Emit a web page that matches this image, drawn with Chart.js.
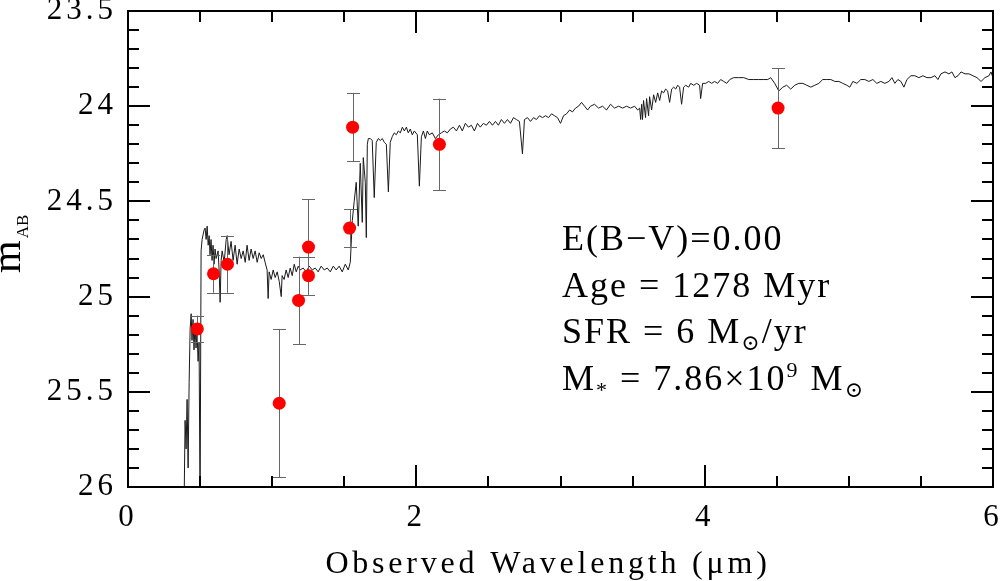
<!DOCTYPE html>
<html><head><meta charset="utf-8">
<script src="https://cdn.jsdelivr.net/npm/chart.js@4.4.1/dist/chart.umd.min.js"></script>
<style>html,body{margin:0;padding:0;background:#fff}#wrap{width:1002px;height:581px;position:relative}</style>
</head><body><div id="wrap"><canvas id="c"></canvas></div>
<script>
// ---- model spectrum (observed wavelength in micron, AB magnitude) ----
const specWave = [0.389,0.396,0.403,0.410,0.417,0.424,0.431,0.438,0.444,0.451,0.458,0.465,0.472,0.479,0.486,0.493,0.500,0.507,0.514,0.528,0.535,0.542,0.549,0.556,0.563,0.569,0.576,0.583,0.590,0.597,0.604,0.611,0.625,0.632,0.639,0.646,0.653,0.667,0.681,0.688,0.701,0.715,0.729,0.743,0.757,0.771,0.785,0.799,0.813,0.826,0.840,0.854,0.868,0.882,0.896,0.910,0.924,0.938,0.951,0.965,0.972,0.979,0.993,1.007,1.021,1.035,1.049,1.063,1.069,1.083,1.097,1.111,1.125,1.139,1.153,1.167,1.181,1.194,1.215,1.236,1.257,1.278,1.299,1.319,1.340,1.361,1.382,1.403,1.424,1.444,1.465,1.486,1.507,1.528,1.542,1.556,1.569,1.583,1.597,1.611,1.625,1.632,1.646,1.653,1.660,1.667,1.681,1.694,1.708,1.722,1.736,1.750,1.764,1.778,1.792,1.806,1.819,1.833,1.847,1.861,1.875,1.889,1.903,1.917,1.931,1.944,1.958,1.972,1.986,2.007,2.021,2.035,2.049,2.063,2.076,2.090,2.111,2.132,2.153,2.174,2.194,2.215,2.236,2.257,2.278,2.299,2.319,2.340,2.361,2.382,2.403,2.424,2.444,2.465,2.486,2.507,2.528,2.549,2.569,2.590,2.611,2.632,2.653,2.674,2.694,2.715,2.736,2.750,2.771,2.792,2.813,2.833,2.854,2.875,2.896,2.917,2.938,2.958,2.979,3.000,3.021,3.042,3.063,3.083,3.104,3.125,3.146,3.167,3.188,3.208,3.236,3.264,3.292,3.319,3.347,3.375,3.403,3.431,3.458,3.486,3.514,3.535,3.549,3.556,3.563,3.569,3.576,3.590,3.597,3.611,3.618,3.632,3.646,3.660,3.674,3.688,3.701,3.715,3.729,3.743,3.757,3.771,3.785,3.799,3.813,3.826,3.840,3.854,3.868,3.889,3.903,3.924,3.944,3.965,3.972,3.986,4.007,4.028,4.049,4.069,4.090,4.111,4.132,4.153,4.174,4.201,4.236,4.271,4.306,4.340,4.375,4.410,4.438,4.458,4.486,4.514,4.542,4.569,4.597,4.625,4.653,4.681,4.708,4.736,4.764,4.792,4.819,4.847,4.875,4.903,4.931,4.958,4.986,5.007,5.028,5.056,5.083,5.111,5.139,5.167,5.194,5.222,5.250,5.278,5.299,5.319,5.340,5.361,5.382,5.403,5.431,5.458,5.486,5.514,5.542,5.569,5.597,5.618,5.639,5.667,5.694,5.715,5.736,5.757,5.778,5.806,5.833,5.861,5.889,5.917,5.944,5.972,5.986,6.000];
const specMag = [26.10,25.65,25.80,25.54,25.90,25.45,25.17,25.09,25.23,25.12,25.28,25.14,25.27,25.18,25.34,25.24,26.10,24.76,24.70,24.65,24.64,24.70,24.63,24.73,24.68,24.78,24.70,24.81,24.73,24.83,24.75,24.80,24.76,24.86,25.03,24.81,24.76,24.82,24.70,24.68,24.78,24.71,24.81,24.73,24.83,24.75,24.80,24.76,24.82,24.73,24.81,24.75,24.80,24.76,24.82,24.77,24.80,24.78,24.82,24.86,25.01,24.87,24.91,24.86,24.90,24.87,24.92,25.00,24.89,24.91,24.86,24.90,24.85,24.89,24.83,24.87,24.84,24.86,24.85,24.87,24.84,24.86,24.85,24.87,24.84,24.86,24.85,24.87,24.84,24.86,24.84,24.87,24.83,24.86,24.82,24.60,24.50,24.40,24.63,24.30,24.61,24.27,24.40,24.69,24.20,24.17,24.17,24.18,24.48,24.19,24.17,24.18,24.17,24.19,24.20,24.45,24.19,24.16,24.14,24.15,24.13,24.14,24.11,24.13,24.11,24.14,24.12,24.15,24.13,24.15,24.42,24.16,24.13,24.17,24.13,24.15,24.14,24.17,24.15,24.14,24.13,24.14,24.12,24.11,24.13,24.10,24.13,24.09,24.11,24.10,24.13,24.09,24.11,24.09,24.10,24.08,24.10,24.08,24.10,24.07,24.09,24.07,24.09,24.06,24.07,24.08,24.25,24.07,24.06,24.08,24.06,24.07,24.05,24.06,24.05,24.06,24.04,24.05,24.06,24.09,24.05,24.04,24.02,24.03,24.01,24.00,23.98,24.00,24.02,24.00,23.99,24.01,24.00,24.02,23.99,24.01,24.00,24.01,24.00,24.01,24.00,24.02,24.01,24.07,23.99,24.07,23.97,24.06,23.96,24.05,23.95,24.02,23.94,23.98,23.93,23.97,23.92,23.93,23.91,23.92,23.98,23.91,23.90,23.91,23.89,23.90,23.99,23.90,23.89,23.90,23.88,23.89,23.88,23.89,23.96,23.88,23.88,23.87,23.88,23.87,23.88,23.86,23.87,23.88,23.86,23.85,23.85,23.85,23.86,23.86,23.86,23.86,23.86,23.85,23.88,23.92,23.90,23.89,23.91,23.89,23.88,23.88,23.89,23.90,23.89,23.88,23.86,23.86,23.86,23.87,23.87,23.88,23.89,23.90,23.87,23.88,23.86,23.86,23.87,23.86,23.88,23.87,23.88,23.87,23.85,23.88,23.86,23.87,23.90,23.86,23.84,23.84,23.85,23.84,23.85,23.85,23.84,23.86,23.83,23.82,23.83,23.82,23.85,23.84,23.82,23.83,23.83,23.84,23.85,23.87,23.85,23.84,23.82,23.85];

// ---- observed photometry ----
const photWave = [0.481,0.593,0.690,1.049,1.183,1.252,1.252,1.537,1.558,2.160,4.509];
const photMag  = [25.17,24.88,24.83,25.56,25.02,24.74,24.89,24.64,24.11,24.20,24.01];
const photErr  = [0.07,0.10,0.15,0.39,0.23,0.25,0.10,0.10,0.18,0.24,0.21];

// ---- axes ----
const xTickValues = [0, 2, 4, 6];
const xTickLabels = ['0','2','4','6'];
const yTickValues = [23.5, 24, 24.5, 25, 25.5, 26];
const yTickLabels = ['23.5','24','24.5','25','25.5','26'];
const xAxisTitle = 'Observed Wavelength (\u03BCm)';
const yAxisTitle = 'm';
const yAxisSub = 'AB';
const annotation = [
  [['E(B\u2212V)=0.00','n']],
  [['Age = 1278 Myr','n']],
  [['SFR = 6 M','n'],['\u2299','sub'],['/yr','n']],
  [['M','n'],['*','sub'],[' = 7.86\u00D710','n'],['9','sup'],[' M','n'],['\u2299','sub']]
];

const FONT = '"Liberation Serif", "DejaVu Serif", serif';

function labelFor(values, labels, v) {
  const i = values.findIndex(t => Math.abs(t - v) < 1e-6);
  return i >= 0 ? labels[i] : '';
}

const textPlugin = {
  id: 'textPlugin',
  beforeDraw(chart) { chart.ctx.letterSpacing = '4px'; },
  beforeDatasetDraw(chart, args) {
    if (args.index !== 0) return;
    const {ctx, scales: {x, y}} = chart;
    ctx.save();
    ctx.beginPath();
    const a = chart.chartArea;
    ctx.rect(a.left, a.top, a.right - a.left, a.bottom - a.top);
    ctx.clip();
    ctx.strokeStyle = '#666';
    ctx.lineWidth = 1;
    for (let i = 0; i < photWave.length; i++) {
      const px = Math.round(x.getPixelForValue(photWave[i])) + 0.5;
      const y1 = y.getPixelForValue(photMag[i] - photErr[i]);
      const y2 = y.getPixelForValue(photMag[i] + photErr[i]);
      ctx.beginPath();
      ctx.moveTo(px, y1); ctx.lineTo(px, y2);
      ctx.moveTo(px - 6.5, Math.round(y1) + 0.5); ctx.lineTo(px + 6.5, Math.round(y1) + 0.5);
      ctx.moveTo(px - 6.5, Math.round(y2) + 0.5); ctx.lineTo(px + 6.5, Math.round(y2) + 0.5);
      ctx.stroke();
    }
    ctx.restore();
  },
  afterDraw(chart) {
    const {ctx, chartArea: {left, right, top, bottom}, scales: {x, y}} = chart;
    ctx.save();
    ctx.letterSpacing = '0px';
    ctx.strokeStyle = '#000';
    ctx.lineWidth = 2;
    ctx.strokeRect(left, top, right - left, bottom - top);
    ctx.beginPath();
    for (let i = 0; i <= 12; i++) {
      const px = Math.round(x.getPixelForValue(i * 0.5));
      const len = (i % 4 === 0) ? 22 : 11;
      ctx.moveTo(px, bottom); ctx.lineTo(px, bottom - len);
      ctx.moveTo(px, top); ctx.lineTo(px, top + len);
    }
    for (let i = 0; i <= 25; i++) {
      const py = Math.round(y.getPixelForValue(23.5 + i * 0.1));
      const len = (i % 5 === 0) ? 22 : 11;
      ctx.moveTo(left, py); ctx.lineTo(left + len, py);
      ctx.moveTo(right, py); ctx.lineTo(right - len, py);
    }
    ctx.stroke();

    ctx.fillStyle = '#000';
    // x axis title
    ctx.letterSpacing = '3.8px';
    ctx.font = '32px ' + FONT;
    ctx.textAlign = 'left';
    ctx.textBaseline = 'alphabetic';
    const w = ctx.measureText(xAxisTitle).width;
    ctx.fillText(xAxisTitle, 548 - w / 2, 573);

    // y axis title
    ctx.letterSpacing = '0px';
    ctx.save();
    ctx.translate(20, 273);
    ctx.rotate(-Math.PI / 2);
    ctx.font = '42px ' + FONT;
    ctx.fillText(yAxisTitle, 0, 0);
    const mw = ctx.measureText(yAxisTitle).width;
    ctx.font = '17px ' + FONT;
    ctx.fillText(yAxisSub, mw + 2, 8);
    ctx.restore();

    // annotation
    ctx.letterSpacing = '2px';
    const base = [250, 296.5, 343, 390];
    annotation.forEach((segs, li) => {
      let cx = 562;
      for (const [t, k] of segs) {
        const size = k === 'n' ? 36 : 22;
        const dy = k === 'sub' ? 7 : (k === 'sup' ? -13 : 0);
        ctx.font = size + 'px ' + FONT;
        ctx.fillText(t, cx, base[li] + dy);
        cx += ctx.measureText(t).width;
      }
    });
    ctx.restore();
  }
};

new Chart(document.getElementById('c'), {
  type: 'scatter',
  data: {
    datasets: [
      {
        label: 'photometry',
        data: photWave.map((v, i) => ({x: v, y: photMag[i]})),
        pointRadius: 6.5,
        pointBackgroundColor: '#ff0000',
        pointBorderWidth: 0,
        showLine: false
      },
      {
        label: 'model',
        data: specWave.map((v, i) => ({x: v, y: specMag[i]})),
        showLine: true,
        pointRadius: 0,
        borderColor: '#1a1a1a',
        borderWidth: 1,
        tension: 0
      }
    ]
  },
  options: {
    responsive: true,
    maintainAspectRatio: false,
    animation: false,
    events: [],
    layout: {padding: {left: 0, top: 11, right: 9, bottom: 0}},
    plugins: {legend: {display: false}, tooltip: {enabled: false}},
    scales: {
      x: {
        type: 'linear', min: 0, max: 6,
        grid: {display: false, drawTicks: false},
        border: {display: false},
        ticks: {stepSize: 2, padding: 12, color: '#000', font: {family: FONT, size: 31},
          callback: (v) => labelFor(xTickValues, xTickLabels, v)},
        afterFit(s) { s.height = 94; s.paddingLeft = 0; s.paddingRight = 0; }
      },
      y: {
        type: 'linear', reverse: true, min: 23.5, max: 26,
        grid: {display: false, drawTicks: false},
        border: {display: false},
        ticks: {stepSize: 0.5, padding: 11, color: '#000', font: {family: FONT, size: 31},
          callback: (v) => labelFor(yTickValues, yTickLabels, v)},
        afterFit(s) { s.width = 128; s.paddingTop = 0; s.paddingBottom = 0; }
      }
    }
  },
  plugins: [textPlugin]
});
</script>
</body></html>
